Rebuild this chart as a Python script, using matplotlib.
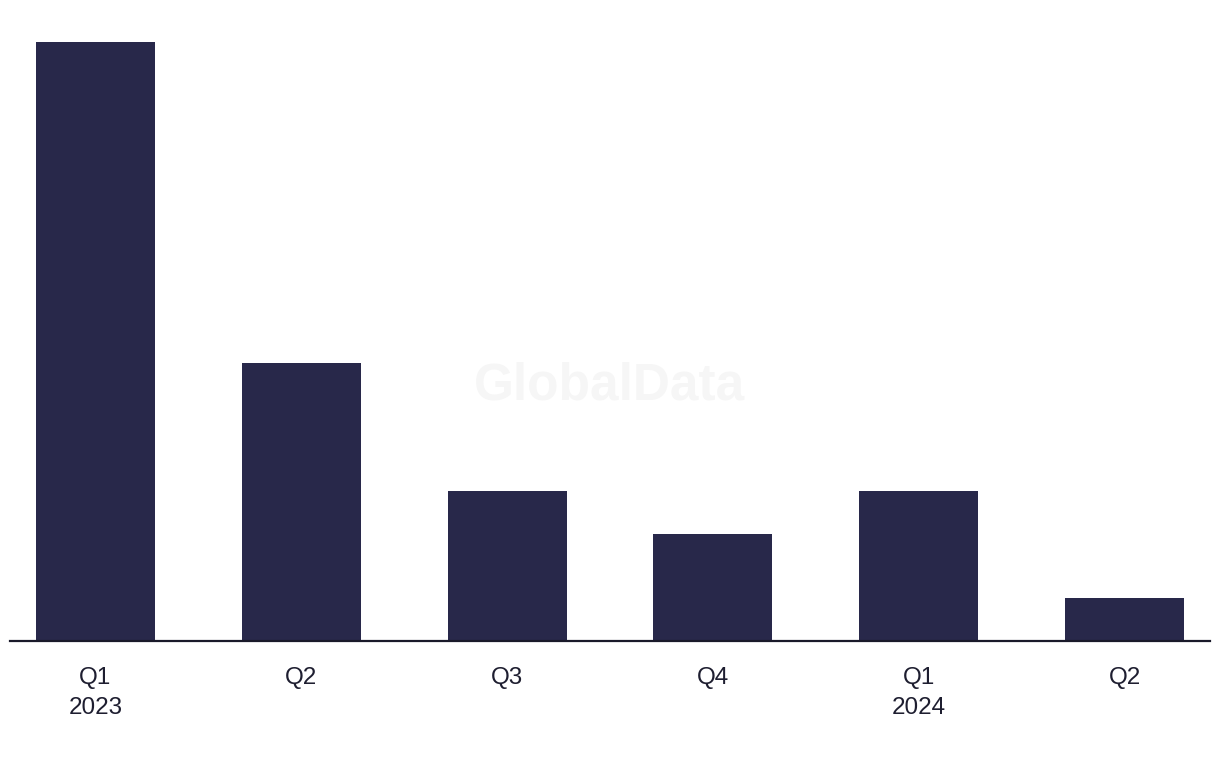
import matplotlib
matplotlib.use("Agg")
import matplotlib.pyplot as plt

plt.rcParams['font.family'] = ['Liberation Sans', 'DejaVu Sans']

# data
quarters = ["Q1\n2023", "Q2", "Q3", "Q4", "Q1\n2024", "Q2"]
deals = [28, 13, 7, 5, 7, 2]

bar_color = "#28284a"

fig = plt.figure(figsize=(12.2, 7.68), dpi=100)
# axes placed so the baseline sits at y=641px and the top bar reaches y=42px
ax = fig.add_axes([10 / 1220, 1 - 641 / 768, 1200 / 1220, (641 - 42) / 768])

x = list(range(len(deals)))
ax.bar(x, deals, width=0.578, color=bar_color, zorder=2)

ax.set_ylim(0, 28)
ax.set_xlim(-0.415, 5.415)

# watermark
fig.text(0.5, 1 - 386 / 768, "GlobalData", ha="center", va="center",
         fontsize=37, fontweight="bold", color="#f6f6f6", zorder=0)

for s in ["top", "right", "left"]:
    ax.spines[s].set_visible(False)
ax.spines["bottom"].set_color("#1a1a2a")
ax.spines["bottom"].set_linewidth(1.6)

ax.set_yticks([])
ax.set_xticks(x)
ax.set_xticklabels(quarters, fontsize=17.5, color="#1e1e30", linespacing=1.45)
ax.tick_params(axis="x", length=0, pad=19)
ax.patch.set_alpha(0)

fig.savefig("out.png", dpi=100)
